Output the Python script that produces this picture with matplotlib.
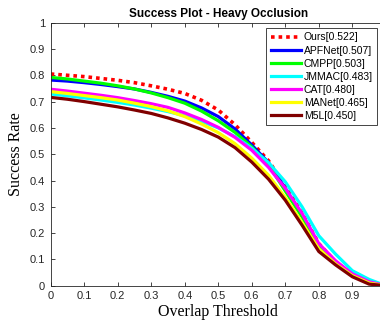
import matplotlib
matplotlib.use("Agg")
import matplotlib.pyplot as plt
import numpy as np

# overlap thresholds 0:0.05:1
thresholds = [0.00, 0.05, 0.10, 0.15, 0.20, 0.25, 0.30, 0.35, 0.40, 0.45, 0.50,
              0.55, 0.60, 0.65, 0.70, 0.75, 0.80, 0.85, 0.90, 0.95, 1.00]

ours   = [0.805, 0.800, 0.795, 0.788, 0.781, 0.772, 0.760, 0.747, 0.731, 0.705, 0.668,
          0.612, 0.545, 0.475, 0.378, 0.275, 0.160, 0.090, 0.043, 0.012, 0.0]
apfnet = [0.782, 0.778, 0.772, 0.765, 0.757, 0.748, 0.735, 0.720, 0.702, 0.676, 0.643,
          0.596, 0.535, 0.468, 0.370, 0.270, 0.155, 0.088, 0.042, 0.012, 0.0]
cmpp   = [0.792, 0.786, 0.778, 0.770, 0.760, 0.748, 0.733, 0.715, 0.694, 0.664, 0.627,
          0.583, 0.528, 0.460, 0.360, 0.262, 0.150, 0.085, 0.040, 0.012, 0.0]
jmmac  = [0.729, 0.722, 0.714, 0.706, 0.697, 0.687, 0.675, 0.662, 0.646, 0.625, 0.600,
          0.567, 0.523, 0.468, 0.395, 0.300, 0.190, 0.120, 0.057, 0.024, 0.0]
cat    = [0.747, 0.740, 0.732, 0.724, 0.715, 0.704, 0.692, 0.678, 0.657, 0.632, 0.602,
          0.564, 0.515, 0.450, 0.370, 0.275, 0.160, 0.095, 0.045, 0.015, 0.0]
manet  = [0.738, 0.731, 0.723, 0.715, 0.706, 0.694, 0.681, 0.665, 0.643, 0.615, 0.582,
          0.540, 0.485, 0.420, 0.335, 0.240, 0.140, 0.083, 0.038, 0.010, 0.0]
m5l    = [0.716, 0.709, 0.700, 0.690, 0.680, 0.668, 0.655, 0.638, 0.618, 0.594, 0.565,
          0.525, 0.470, 0.405, 0.325, 0.230, 0.130, 0.079, 0.034, 0.006, 0.0]

labels = ["Ours[0.522]", "APFNet[0.507]", "CMPP[0.503]", "JMMAC[0.483]",
          "CAT[0.480]", "MANet[0.465]", "M5L[0.450]"]
colors = ["#ff0000", "#0000ff", "#00ff00", "#00ffff", "#ff00ff", "#ffff00", "#800000"]
series = [ours, apfnet, cmpp, jmmac, cat, manet, m5l]

plt.rcParams['font.family'] = ['Liberation Sans', 'DejaVu Sans']

fig = plt.figure(figsize=(3.8, 3.29), dpi=100)
ax = fig.add_axes([0.1334, 0.1316, 0.882, 0.7994])

for i, (vals, lab, col) in enumerate(zip(series, labels, colors)):
    if i == 0:
        ax.plot(thresholds, vals, color=col, lw=2.6, linestyle=(0, (1, 1.1)), label=lab)
    else:
        ax.plot(thresholds, vals, color=col, lw=2.3, label=lab)

ax.set_xlim(0, 1)
ax.set_ylim(0, 1)
ax.set_xticks(np.arange(0, 1.01, 0.1))
ax.set_yticks(np.arange(0, 1.01, 0.1))
# the right edge (x = 1) falls outside the picture, as in the original crop
ax.set_xticklabels(["0", "0.1", "0.2", "0.3", "0.4", "0.5", "0.6", "0.7", "0.8", "0.9", ""])
ax.set_yticklabels(["0", "0.1", "0.2", "0.3", "0.4", "0.5", "0.6", "0.7", "0.8", "0.9", "1"])
ax.tick_params(direction="in", top=True, right=True, length=3, width=0.6,
               labelsize=8, colors="#262626", pad=4)
for sp in ax.spines.values():
    sp.set_color("#262626")
    sp.set_linewidth(0.6)

ax.set_title("Success Plot - Heavy Occlusion", fontsize=8.5, fontweight="bold", pad=4)
ax.set_xlabel("Overlap Threshold", fontsize=11.5, family=["Liberation Serif", "DejaVu Serif"], labelpad=2)
ax.set_ylabel("Success Rate", fontsize=11.5, family=["Liberation Serif", "DejaVu Serif"], labelpad=4)

leg = ax.legend(loc="upper right", bbox_to_anchor=(0.974, 0.979), borderaxespad=0,
                fontsize=7.5, fancybox=False, framealpha=1, edgecolor="#262626",
                handlelength=2.9, handletextpad=0.3, labelspacing=0.3, borderpad=0.4)
leg.get_frame().set_linewidth(0.6)

plt.savefig("out.png", dpi=100)
